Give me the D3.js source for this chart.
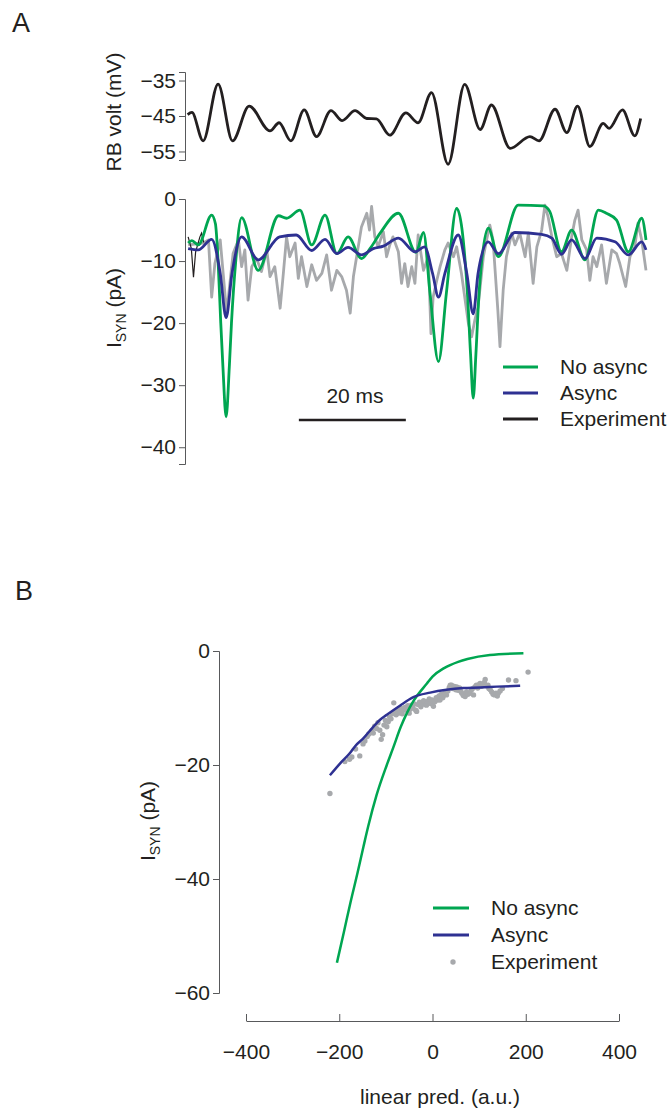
<!DOCTYPE html>
<html>
<head>
<meta charset="utf-8">
<script src="https://cdn.jsdelivr.net/npm/d3@7"></script>
<style>
  body { margin: 0; background: #fff; }
  text { font-family: "Liberation Sans", Arial, sans-serif; fill: #231f20; }
  .axis path, .axis line { stroke: #58595b; stroke-width: 1; }
  .axis text { font-size: 21px; }
</style>
</head>
<body>
<div id="chart"></div>
<script>
// ---- panel A (time in ms) ----
var rbVolt = [[0.3,-44.6],[1.1,-44.0],[3.2,-52],[6.0,-36],[8.7,-52],[11.8,-42.2],[15.7,-49.2],[17.4,-46.9],
  [19.6,-52],[22.1,-43.3],[24.4,-50.8],[27.1,-43.5],[29.2,-46.3],[31.6,-43.5],[33.8,-45.7],[35.6,-45.8],
  [38.1,-50.4],[41.1,-44.1],[43.4,-46.9],[45.9,-38.4],[49.0,-58.6],[52.1,-36.1],[55.0,-48.8],[57.1,-41.9],
  [60.6,-54.1],[64.3,-50.8],[66.0,-52],[69.0,-43.1],[71.2,-49.7],[73.2,-42.2],[75.5,-53.6],[78.0,-47.1],
  [79.1,-48.5],[81.6,-43.3],[83.9,-50.6],[85.0,-45.7]];

var noAsyncA = [[0.4,-7.1],[1.1,-6.7],[2.3,-7.4],[4.8,-2.6],[5.5,-4],[6.0,-10],[6.5,-20],[6.9,-27],[7.5,-35.1],
  [8.1,-27],[8.5,-20],[9.3,-10],[10.4,-3.0],[13.5,-11.5],[17.3,-2.7],[18.8,-3.1],[21.3,-1.8],[23.5,-7.4],
  [26.0,-2.6],[28.2,-8.8],[30.3,-6.1],[32.8,-9.6],[34.4,-8.0],[36.3,-5.5],[39.7,-2.3],[43.0,-8.6],[44.4,-5.4],
  [45.6,-15],[47.2,-26.2],[48.7,-15],[50.6,-1.5],[52.6,-15],[53.2,-25],[53.7,-32.1],[54.2,-25],[54.8,-15],
  [56.5,-4.7],[58.4,-9.3],[62.1,-1.0],[66.8,-1.1],[68.0,-2.0],[70.2,-8.5],[72.1,-5.0],[74.6,-9.8],[77.1,-1.8],
  [78.6,-2.3],[80.5,-3.4],[82.7,-8.5],[85.2,-3.1],[86.0,-6.6]];

var asyncA = [[0.4,-8.0],[2.3,-8.2],[4.8,-6.5],[6.4,-12],[7.5,-19.1],[8.6,-12],[10.4,-6.1],[13.5,-9.8],
  [17.5,-6.1],[20.6,-5.8],[23.5,-8.3],[26.0,-6.5],[28.2,-8.8],[30.3,-7.8],[32.8,-9.0],[35.0,-8.0],[36.9,-7.6],
  [39.7,-6.3],[42.8,-8.5],[44.6,-7.7],[46.1,-12],[47.2,-15.8],[48.4,-12],[50.9,-5.8],[52.5,-12],[53.7,-18.5],
  [54.6,-12],[56.5,-6.9],[58.4,-8.8],[61.5,-5.4],[66.5,-5.7],[68.4,-6.3],[70.2,-8.9],[72.1,-6.6],[74.6,-9.6],
  [76.8,-6.3],[80.2,-6.9],[82.7,-9.0],[85.2,-6.9],[86.0,-8.2]];

var grayA = [[0.4,-7.4],[3.2,-7.1],[4.2,-6.6],[4.8,-15.8],[5.4,-10.4],[6.4,-6.6],[7.6,-18.4],[8.8,-8.8],
  [9.8,-6.6],[10.4,-10.9],[11.0,-8.2],[11.6,-16.3],[12.3,-10.9],[13.2,-9.6],[14.1,-11.7],[15.1,-8.2],
  [15.7,-12.5],[16.6,-10.9],[17.6,-17.6],[18.2,-12.0],[18.8,-6.1],[19.4,-9.3],[20.4,-7.1],[21.0,-12.8],
  [21.6,-9.3],[22.6,-14.1],[23.5,-10.6],[24.4,-13.1],[25.4,-12.0],[26.3,-9.0],[27.2,-14.7],[28.2,-11.5],
  [29.1,-12.5],[30.0,-14.7],[30.7,-18.4],[31.3,-12.5],[31.9,-9.3],[32.8,-4.5],[33.8,-2.3],[34.3,-5.0],
  [34.7,-1.2],[35.3,-6.1],[35.9,-7.7],[36.9,-5.3],[37.5,-9.3],[38.1,-7.4],[38.7,-6.1],[39.7,-8.5],
  [40.3,-13.6],[40.9,-10.4],[41.5,-14.1],[42.2,-10.9],[42.8,-13.6],[43.4,-5.8],[44.4,-11.5],[45.3,-9.3],
  [45.8,-21.7],[46.2,-15.8],[46.9,-13.1],[47.5,-10.9],[48.4,-8.2],[49.0,-7.1],[50.0,-9.3],[50.6,-7.7],
  [51.5,-12.0],[52.8,-20.1],[53.4,-22.2],[54.0,-19.5],[54.6,-17.4],[55.6,-9.3],[56.2,-6.6],[56.8,-4.2],
  [57.4,-6.6],[58.3,-17.9],[58.7,-23.8],[59.3,-14.7],[59.9,-9.3],[60.9,-5.5],[61.5,-7.4],[62.4,-5.5],
  [63.4,-9.3],[64.0,-5.5],[64.9,-13.6],[65.6,-7.7],[66.5,-5.0],[67.1,-1.0],[67.7,-2.9],[68.4,-6.1],
  [69.3,-9.3],[70.2,-8.8],[71.2,-11.5],[72.1,-6.1],[72.7,-3.4],[73.3,-1.8],[74.0,-6.6],[74.9,-8.2],
  [75.5,-13.1],[76.1,-9.3],[76.8,-10.9],[77.7,-7.4],[78.6,-13.6],[79.6,-8.2],[80.5,-8.8],[81.1,-10.4],
  [82.2,-14.1],[83.0,-9.3],[83.9,-7.7],[84.5,-3.9],[85.2,-6.6],[86.0,-11.5]];

var blackA = [[0.4,-6.1],[1.0,-8],[1.4,-12.6],[1.8,-8.5],[2.6,-6.1],[2.9,-5.5],[3.3,-7.0]];

var voltTicks = [-35, -45, -55];
var iTicksA = [0, -10, -20, -30, -40];

// ---- panel B ----
var noAsyncB = [[-205,-54.7],[-190,-49.3],[-177,-44.5],[-161,-39],[-148,-34.3],[-138,-30.8],[-120,-25.3],
  [-98,-20.0],[-84,-16.9],[-68,-13.3],[-55,-10.9],[-41,-8.8],[-12,-5.7],[0,-4.5],[25,-3.0],[55,-1.9],
  [75,-1.4],[123,-0.7],[195,-0.4]];

var asyncB = [[-220,-21.8],[-198,-19.7],[-177,-17.9],[-166,-16.7],[-148,-15.3],[-127,-13.3],[-113,-12.1],
  [-98,-11.2],[-70,-9.6],[-41,-8.1],[-5,-7.3],[30,-6.8],[66,-6.5],[102,-6.4],[138,-6.25],[188,-6.1]];

var experimentB = [[-220,-25.0],[-188,-19.4],[-178,-19.0],[-173,-18.6],[-165,-17.2],[-156,-18.4],[-149,-16.3],
  [-145,-15.8],[-140,-15.0],[-137,-14.6],[-134,-14.4],[-130,-14.0],[-127,-14.4],[-124,-13.2],[-120,-13.6],
  [-117,-12.6],[-113,-13.9],[-110,-15.5],[-107,-14.7],[-104,-13.0],[-101,-12.2],[-98,-13.3],[-95,-12.4],
  [-92,-11.6],[-89,-11.9],[-86,-11.0],[-83,-9.1],[-81,-10.8],[-78,-11.2],[-76,-10.4],[-73,-10.9],[-70,-10.6],
  [-67,-10.1],[-65,-11.0],[-62,-10.3],[-59,-9.9],[-56,-10.4],[-53,-9.6],[-50,-10.9],[-48,-10.2],[-45,-9.5],
  [-42,-10.0],[-39,-9.3],[-36,-10.4],[-34,-10.6],[-31,-9.4],[-28,-9.0],[-25,-9.8],[-22,-9.2],[-19,-8.7],
  [-16,-9.4],[-13,-9.5],[-10,-8.8],[-7,-8.4],[-4,-9.2],[-1,-8.6],[2,-9.7],[5,-8.9],[8,-8.2],[11,-8.6],
  [14,-7.9],[16,-8.6],[19,-7.6],[22,-8.2],[25,-7.7],[27,-7.2],[30,-7.7],[33,-7.0],[36,-6.4],[38,-6.0],
  [41,-6.0],[44,-6.6],[47,-6.2],[50,-6.8],[52,-6.3],[55,-6.9],[58,-6.5],[61,-7.1],[63,-7.4],[66,-7.8],
  [70,-8.0],[73,-7.2],[76,-7.6],[80,-7.4],[83,-6.9],[86,-6.6],[88,-7.7],[91,-6.3],[94,-6.0],[97,-6.5],
  [100,-5.9],[102,-5.7],[105,-6.2],[108,-5.9],[111,-5.5],[113,-5.0],[116,-6.1],[119,-6.0],[121,-6.6],
  [124,-6.8],[127,-7.2],[130,-7.6],[133,-7.7],[136,-7.4],[139,-7.9],[141,-7.4],[145,-7.0],[150,-6.6],
  [163,-5.1],[179,-5.2],[205,-3.7]];

var iTicksB = [0, -20, -40, -60];
var predTicks = [-400, -200, 0, 200, 400];

var legendA = ["No async", "Async", "Experiment"];
var legendB = ["No async", "Async", "Experiment"];

var green = "#00a651", blue = "#2e3192", gray = "#a7a9ac", black = "#231f20";

function drawChart() {

  var svg = d3.select("#chart")
    .append("svg")
    .attr("width", 672)
    .attr("height", 1111);

  // panel letters
  svg.append("text").attr("x", 12).attr("y", 32).style("font-size", "27px").text("A");
  svg.append("text").attr("x", 15).attr("y", 600).style("font-size", "27px").text("B");

  // ===== panel A =====
  var xA = d3.scaleLinear().domain([0, 86]).range([186, 646]);
  var yV = d3.scaleLinear().domain([-32.6, -57.4]).range([72, 160]);
  var yI = d3.scaleLinear().domain([0, -42.7]).range([199, 464]);

  svg.append("g")
    .attr("class", "axis")
    .attr("transform", "translate(185,0)")
    .call(d3.axisLeft(yV).tickValues(voltTicks).tickSizeOuter(0).tickSize(6).tickPadding(3));

  svg.append("g")
    .attr("class", "axis")
    .attr("transform", "translate(185,0)")
    .call(d3.axisLeft(yI).tickValues(iTicksA).tickSizeOuter(0).tickSize(6).tickPadding(3));

  var voltLine = d3.line()
    .x(d => xA(d[0]))
    .y(d => yV(d[1]))
    .curve(d3.curveMonotoneX);

  svg.append("path")
    .datum(rbVolt)
    .attr("d", voltLine)
    .attr("fill", "none")
    .attr("stroke", black)
    .attr("stroke-width", 2.8);

  var iLine = d3.line()
    .x(d => xA(d[0]))
    .y(d => yI(d[1]))
    .curve(d3.curveMonotoneX);

  var iLineRaw = d3.line()
    .x(d => xA(d[0]))
    .y(d => yI(d[1]));

  svg.append("path")
    .datum(grayA)
    .attr("d", iLineRaw)
    .attr("fill", "none")
    .attr("stroke", gray)
    .attr("stroke-width", 2.8)
    .attr("stroke-linejoin", "round");

  svg.append("path")
    .datum(blackA)
    .attr("d", iLineRaw)
    .attr("fill", "none")
    .attr("stroke", black)
    .attr("stroke-width", 1.2);

  svg.append("path")
    .datum(noAsyncA)
    .attr("d", iLine)
    .attr("fill", "none")
    .attr("stroke", green)
    .attr("stroke-width", 2.8);

  svg.append("path")
    .datum(asyncA)
    .attr("d", iLine)
    .attr("fill", "none")
    .attr("stroke", blue)
    .attr("stroke-width", 2.8);

  // y labels
  svg.append("text")
    .attr("transform", "translate(121,112) rotate(-90)")
    .style("text-anchor", "middle")
    .style("font-size", "21px")
    .text("RB volt (mV)");

  var isynA = svg.append("text")
    .attr("transform", "translate(121,308) rotate(-90)")
    .style("text-anchor", "middle")
    .style("font-size", "21px");
  isynA.append("tspan").text("I");
  isynA.append("tspan").attr("dy", 5).style("font-size", "14px").text("SYN");
  isynA.append("tspan").attr("dy", -5).text(" (pA)");

  // scale bar
  svg.append("line")
    .attr("x1", xA(21.1)).attr("x2", xA(41.1))
    .attr("y1", 420).attr("y2", 420)
    .attr("stroke", black)
    .attr("stroke-width", 2.5);
  svg.append("text")
    .attr("x", xA(31.6)).attr("y", 403)
    .style("text-anchor", "middle")
    .style("font-size", "21px")
    .text("20 ms");

  // legend A
  var colorsA = [green, blue, black];
  legendA.forEach(function(name, i) {
    var y = 367 + i * 26;
    svg.append("line")
      .attr("x1", 503).attr("x2", 538)
      .attr("y1", y).attr("y2", y)
      .attr("stroke", colorsA[i])
      .attr("stroke-width", 3);
    svg.append("text")
      .attr("x", 560).attr("y", y + 7)
      .style("font-size", "21px")
      .text(name);
  });

  // ===== panel B =====
  var xB = d3.scaleLinear().domain([-400, 400]).range([246, 619]);
  var yB = d3.scaleLinear().domain([0, -60]).range([651, 993]);

  svg.append("g")
    .attr("class", "axis")
    .attr("transform", "translate(219,0)")
    .call(d3.axisLeft(yB).tickValues(iTicksB).tickSizeOuter(0).tickSize(6).tickPadding(3));

  svg.append("g")
    .attr("class", "axis")
    .attr("transform", "translate(0,1021)")
    .call(d3.axisBottom(xB).tickValues(predTicks).tickSizeOuter(0).tickSizeInner(-7).tickPadding(23));

  svg.selectAll(".dot")
    .data(experimentB)
    .enter()
    .append("circle")
    .attr("class", "dot")
    .attr("cx", d => xB(d[0]))
    .attr("cy", d => yB(d[1]))
    .attr("r", 2.7)
    .attr("fill", gray);

  var lineB = d3.line()
    .x(d => xB(d[0]))
    .y(d => yB(d[1]))
    .curve(d3.curveMonotoneX);

  svg.append("path")
    .datum(noAsyncB)
    .attr("d", lineB)
    .attr("fill", "none")
    .attr("stroke", green)
    .attr("stroke-width", 2.5);

  svg.append("path")
    .datum(asyncB)
    .attr("d", lineB)
    .attr("fill", "none")
    .attr("stroke", blue)
    .attr("stroke-width", 2.5);

  var isynB = svg.append("text")
    .attr("transform", "translate(155,821) rotate(-90)")
    .style("text-anchor", "middle")
    .style("font-size", "21px");
  isynB.append("tspan").text("I");
  isynB.append("tspan").attr("dy", 5).style("font-size", "14px").text("SYN");
  isynB.append("tspan").attr("dy", -5).text(" (pA)");

  svg.append("text")
    .attr("x", 440).attr("y", 1104)
    .style("text-anchor", "middle")
    .style("font-size", "21px")
    .text("linear pred. (a.u.)");

  // legend B
  legendB.forEach(function(name, i) {
    var y = 908 + i * 27;
    if (i < 2) {
      svg.append("line")
        .attr("x1", 433).attr("x2", 469)
        .attr("y1", y).attr("y2", y)
        .attr("stroke", i == 0 ? green : blue)
        .attr("stroke-width", 3);
    } else {
      svg.append("circle")
        .attr("cx", 453).attr("cy", y)
        .attr("r", 2.7)
        .attr("fill", gray);
    }
    svg.append("text")
      .attr("x", 491).attr("y", y + 7)
      .style("font-size", "21px")
      .text(name);
  });
}

drawChart();
</script>
</body>
</html>
